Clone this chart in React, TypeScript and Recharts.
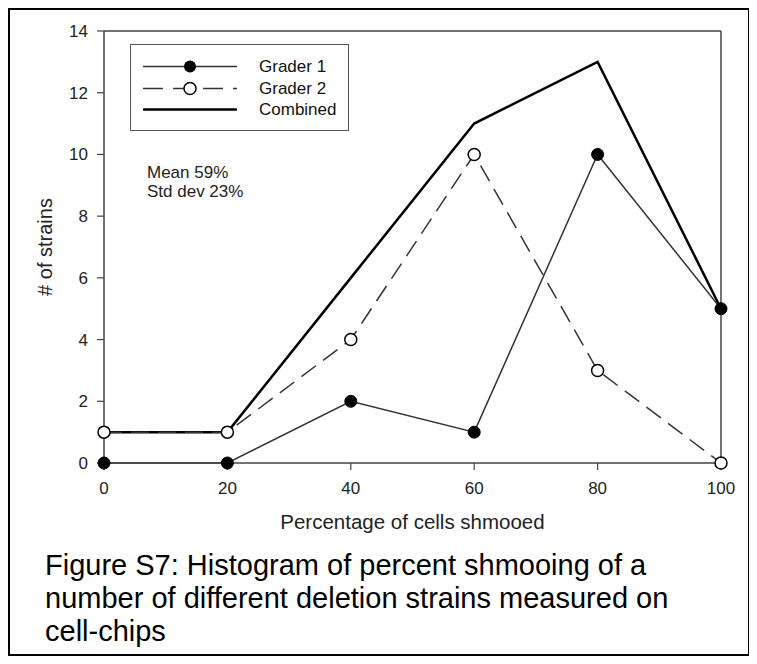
import { LineChart, Line, XAxis, YAxis, ReferenceLine, Legend } from 'recharts';

const percentShmooed = [0, 20, 40, 60, 80, 100];
const grader1 = [0, 0, 2, 1, 10, 5];
const grader2 = [1, 1, 4, 10, 3, 0];
const combined = [1, 1, 6, 11, 13, 5];
const xTicks = [0, 20, 40, 60, 80, 100];
const yTicks = [0, 2, 4, 6, 8, 10, 12, 14];
const statsLines = ['Mean 59%', 'Std dev 23%'];
const captionLines = [
  'Figure S7: Histogram of percent shmooing of a',
  'number of different deletion strains measured on',
  'cell-chips',
];

const data = percentShmooed.map((p, i) => ({
  pct: p,
  g1: grader1[i],
  g2: grader2[i],
  comb: combined[i],
}));

const FONT = '"Liberation Sans", Arial, Helvetica, sans-serif';
const AXIS = '#444';

function LegendBox() {
  const rows = [
    { label: 'Grader 1', kind: 'g1' },
    { label: 'Grader 2', kind: 'g2' },
    { label: 'Combined', kind: 'comb' },
  ];
  return (
    <div
      style={{
        width: 219,
        height: 87,
        boxSizing: 'border-box',
        border: '1.5px solid #555',
        background: '#fff',
        position: 'relative',
        fontFamily: FONT,
        fontSize: 17,
        color: '#111',
      }}
    >
      {rows.map((r, i) => (
        <div key={r.kind} style={{ position: 'absolute', left: 0, top: 11 + i * 21.5, height: 21, width: '100%' }}>
          <svg width={110} height={21} style={{ position: 'absolute', left: 0, top: 0 }}>
            {r.kind === 'g1' && (
              <>
                <line x1={12} x2={106} y1={10.5} y2={10.5} stroke="#333" strokeWidth={1.5} />
                <circle cx={59} cy={10.5} r={6} fill="#000" />
              </>
            )}
            {r.kind === 'g2' && (
              <>
                <line x1={12} x2={106} y1={10.5} y2={10.5} stroke="#333" strokeWidth={1.5} strokeDasharray="20 10" />
                <circle cx={59} cy={10.5} r={6} fill="#fff" stroke="#000" strokeWidth={1.5} />
              </>
            )}
            {r.kind === 'comb' && (
              <line x1={12} x2={106} y1={10.5} y2={10.5} stroke="#000" strokeWidth={2.5} />
            )}
          </svg>
          <span style={{ position: 'absolute', left: 128, top: 0, lineHeight: '21px' }}>{r.label}</span>
        </div>
      ))}
    </div>
  );
}

export default function App() {
  return (
    <div
      style={{
        position: 'relative',
        width: 742,
        height: 648,
        boxSizing: 'border-box',
        border: '2px solid #000',
        background: '#fff',
        fontFamily: FONT,
      }}
    >
      <LineChart
        width={738}
        height={545}
        data={data}
        margin={{ top: 21, right: 27, left: 34, bottom: 62 }}
      >
        <XAxis
          dataKey="pct"
          type="number"
          domain={[0, 100]}
          ticks={xTicks}
          tickSize={7}
          tickMargin={12}
          height={30}
          axisLine={{ stroke: AXIS, strokeWidth: 1.5 }}
          tickLine={{ stroke: AXIS, strokeWidth: 1.2 }}
          tick={{ fill: '#222', fontSize: 17, fontFamily: FONT }}
          label={{
            value: 'Percentage of cells shmooed',
            position: 'bottom',
            offset: 21,
            fill: '#222',
            fontSize: 20.5,
            fontFamily: FONT,
          }}
        />
        <YAxis
          type="number"
          domain={[0, 14]}
          ticks={yTicks}
          width={60}
          tickSize={7}
          tickMargin={9}
          axisLine={{ stroke: AXIS, strokeWidth: 1.5 }}
          tickLine={{ stroke: AXIS, strokeWidth: 1.2 }}
          tick={{ fill: '#222', fontSize: 17, fontFamily: FONT }}
          label={{
            content: (props: any) => {
              const vb = props.viewBox || {};
              const cy = vb.y + vb.height / 2;
              const cx = 35;
              return (
                <text
                  x={cx}
                  y={cy}
                  transform={`rotate(-90 ${cx} ${cy})`}
                  textAnchor="middle"
                  dominantBaseline="central"
                  fill="#222"
                  fontSize={20}
                  fontFamily={FONT}
                >
                  # of strains
                </text>
              );
            },
          }}
        />
        <ReferenceLine y={14} stroke={AXIS} strokeWidth={1.5} />
        <ReferenceLine x={100} stroke={AXIS} strokeWidth={1.5} />
        <Legend
          layout="horizontal"
          verticalAlign="middle"
          align="center"
          wrapperStyle={{ left: 120, top: 34, width: 219 }}
          content={() => <LegendBox />}
        />
        <Line
          dataKey="comb"
          stroke="#000"
          strokeWidth={2.5}
          dot={false}
          activeDot={false}
          isAnimationActive={false}
        />
        <Line
          dataKey="g2"
          stroke="#333"
          strokeWidth={1.5}
          strokeDasharray="18 9"
          dot={{ r: 6, fill: '#fff', stroke: '#000', strokeWidth: 1.5, strokeDasharray: '' }}
          activeDot={false}
          isAnimationActive={false}
        />
        <Line
          dataKey="g1"
          stroke="#333"
          strokeWidth={1.5}
          dot={{ r: 6, fill: '#000', stroke: '#000', strokeWidth: 1 }}
          activeDot={false}
          isAnimationActive={false}
        />
      </LineChart>
      <div
        style={{
          position: 'absolute',
          left: 137,
          top: 153,
          fontSize: 17,
          lineHeight: '19px',
          color: '#222',
        }}
      >
        {statsLines.map((s) => (
          <div key={s}>{s}</div>
        ))}
      </div>
      <div
        style={{
          position: 'absolute',
          left: 35,
          top: 539,
          fontSize: 29,
          lineHeight: '33px',
          color: '#000',
          whiteSpace: 'nowrap',
        }}
      >
        {captionLines.map((s) => (
          <div key={s}>{s}</div>
        ))}
      </div>
    </div>
  );
}
